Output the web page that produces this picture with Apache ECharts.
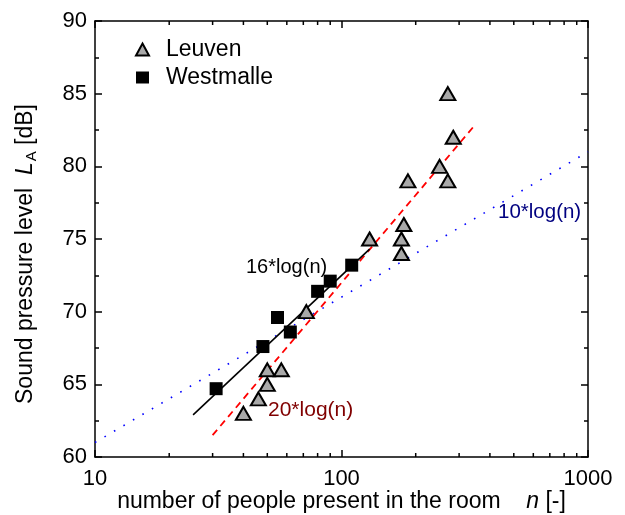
<!DOCTYPE html>
<html>
<head>
<meta charset="utf-8">
<script src="https://cdn.jsdelivr.net/npm/echarts@6/dist/echarts.min.js"></script>
<style>
  html, body { margin: 0; padding: 0; background: #fff; }
  #chart { width: 625px; height: 515px; }
</style>
</head>
<body>
<div id="chart"></div>
<script>
// measured points, n = people in room, L = level in dB(A)
const leuvenN = [40, 46, 50, 50, 57, 72, 130, 175, 175, 179, 186, 250, 270, 284, 270];
const leuvenL = [63, 64, 65, 66, 66, 70, 75, 74, 75, 76, 79, 80, 79, 82, 85];
const westmalleN = [31, 48, 55, 62, 80, 90, 110];
const westmalleL = [64.7, 67.6, 69.6, 68.6, 71.4, 72.1, 73.2];

// fitted / reference lines (end points)
const fit16N = [25, 130];
const fit16L = [62.9, 74.3];
const fit20N = [30, 350];
const fit20L = [61.5, 82.9];
const ref10N = [10, 1000];
const ref10L = [61, 81];

// minor ticks of the log axis
const xMinorTicks = [20, 30, 40, 50, 60, 70, 80, 90, 200, 300, 400, 500, 600, 700, 800, 900];

const xMin = 10, xMax = 1000;
const yMin = 60, yMax = 90;

const font = 'Liberation Sans, Arial, Helvetica, sans-serif';

function pairs(xs, ys) {
    return xs.map((x, i) => [x, ys[i]]);
}

const chart = echarts.init(document.getElementById('chart'));

const option = {
    animation: false,
    grid: { left: 95, right: 37, top: 21, bottom: 58, containLabel: false, outerBoundsMode: 'none' },
    legend: {
        orient: 'vertical',
        left: 130,
        top: 33,
        itemGap: 5,
        itemWidth: 13,
        itemHeight: 12,
        textStyle: { fontFamily: font, fontSize: 23, color: '#000', padding: [0, 0, 0, 12] },
        data: [
            { name: 'Leuven', icon: 'triangle' },
            { name: 'Westmalle', icon: 'rect' }
        ]
    },
    xAxis: [
        {
            type: 'log',
            logBase: 10,
            min: xMin,
            max: xMax,
            name: 'number of people present in the room    {i|n} [-]',
            nameLocation: 'middle',
            nameGap: 33,
            nameMoveOverlap: false,
            nameTextStyle: {
                fontFamily: font, fontSize: 23, color: '#000',
                rich: { i: { fontFamily: font, fontSize: 23, fontStyle: 'italic', color: '#000' } }
            },
            axisLine: { lineStyle: { color: '#000', width: 1.5 } },
            axisTick: { inside: true, length: 7, lineStyle: { color: '#000', width: 1.5 } },
            axisLabel: { fontFamily: font, fontSize: 22, color: '#000', margin: 11, formatter: (v) => String(v) },
            splitLine: { show: false }
        },
        {
            type: 'log',
            logBase: 10,
            position: 'top',
            min: xMin,
            max: xMax,
            axisLine: { lineStyle: { color: '#000', width: 1.5 } },
            axisTick: { inside: true, length: 7, lineStyle: { color: '#000', width: 1.5 } },
            axisLabel: { show: false },
            splitLine: { show: false }
        }
    ],
    yAxis: [
        {
            type: 'value',
            min: yMin,
            max: yMax,
            interval: 5,
            name: 'Sound pressure level  {i|L}{sub|A} [dB]',
            nameLocation: 'middle',
            nameGap: 56,
            nameMoveOverlap: false,
            nameTextStyle: {
                fontFamily: font, fontSize: 23, color: '#000',
                padding: [0, 30, 0, 0],
                rich: {
                    i: { fontFamily: font, fontSize: 23, fontStyle: 'italic', color: '#000' },
                    sub: { fontFamily: font, fontSize: 15, color: '#000', padding: [11, 0, 0, 1] }
                }
            },
            axisLine: { lineStyle: { color: '#000', width: 1.5 } },
            axisTick: { inside: true, length: 7, lineStyle: { color: '#000', width: 1.5 } },
            minorTick: { show: true, splitNumber: 2, length: 4, lineStyle: { color: '#000', width: 1.5 } },
            axisLabel: { fontFamily: font, fontSize: 22, color: '#000', margin: 8 },
            splitLine: { show: false }
        },
        {
            type: 'value',
            position: 'right',
            min: yMin,
            max: yMax,
            interval: 5,
            axisLine: { lineStyle: { color: '#000', width: 1.5 } },
            axisTick: { inside: true, length: 7, lineStyle: { color: '#000', width: 1.5 } },
            minorTick: { show: true, splitNumber: 2, length: 4, lineStyle: { color: '#000', width: 1.5 } },
            axisLabel: { show: false },
            splitLine: { show: false }
        }
    ],
    graphic: [
        {
            type: 'text', left: 246, top: 257,
            style: { text: '16*log(n)', fontFamily: font, fontSize: 20, fill: '#000' }
        },
        {
            type: 'text', left: 268, top: 400,
            style: { text: '20*log(n)', fontFamily: font, fontSize: 21, fill: '#800000' }
        },
        {
            type: 'text', left: 498, top: 202,
            style: { text: '10*log(n)', fontFamily: font, fontSize: 20.5, fill: '#000080' }
        }
    ],
    series: [
        {
            // minor ticks on bottom and top log axes
            type: 'custom',
            silent: true,
            clip: false,
            data: xMinorTicks.map((v) => [v]),
            encode: { x: 0 },
            renderItem: function (params, api) {
                const v = api.value(0);
                const b = api.coord([v, yMin]);
                const t = api.coord([v, yMax]);
                const st = { stroke: '#000', lineWidth: 1.5 };
                return {
                    type: 'group',
                    children: [
                        { type: 'line', shape: { x1: b[0], y1: b[1], x2: b[0], y2: b[1] - 4 }, style: st },
                        { type: 'line', shape: { x1: t[0], y1: t[1], x2: t[0], y2: t[1] + 4 }, style: st }
                    ]
                };
            }
        },
        {
            name: '10*log(n)',
            type: 'line',
            data: pairs(ref10N, ref10L),
            showSymbol: false,
            silent: true,
            lineStyle: { color: '#0000ff', width: 1.6, type: [1.6, 9.4] },
            z: 2
        },
        {
            name: '20*log(n)',
            type: 'line',
            data: pairs(fit20N, fit20L),
            showSymbol: false,
            silent: true,
            lineStyle: { color: '#ff0000', width: 1.8, type: [7, 5] },
            z: 2
        },
        {
            name: '16*log(n)',
            type: 'line',
            data: pairs(fit16N, fit16L),
            showSymbol: false,
            silent: true,
            lineStyle: { color: '#000', width: 1.6 },
            z: 2
        },
        {
            name: 'Leuven',
            type: 'scatter',
            symbol: 'triangle',
            symbolSize: [15, 13],
            data: pairs(leuvenN, leuvenL),
            itemStyle: { color: '#a9a9a9', borderColor: '#000', borderWidth: 2, opacity: 1 },
            z: 4
        },
        {
            name: 'Westmalle',
            type: 'scatter',
            symbol: 'rect',
            symbolSize: 13,
            data: pairs(westmalleN, westmalleL),
            itemStyle: { color: '#000', opacity: 1 },
            z: 5
        }
    ]
};

chart.setOption(option);
</script>
</body>
</html>
